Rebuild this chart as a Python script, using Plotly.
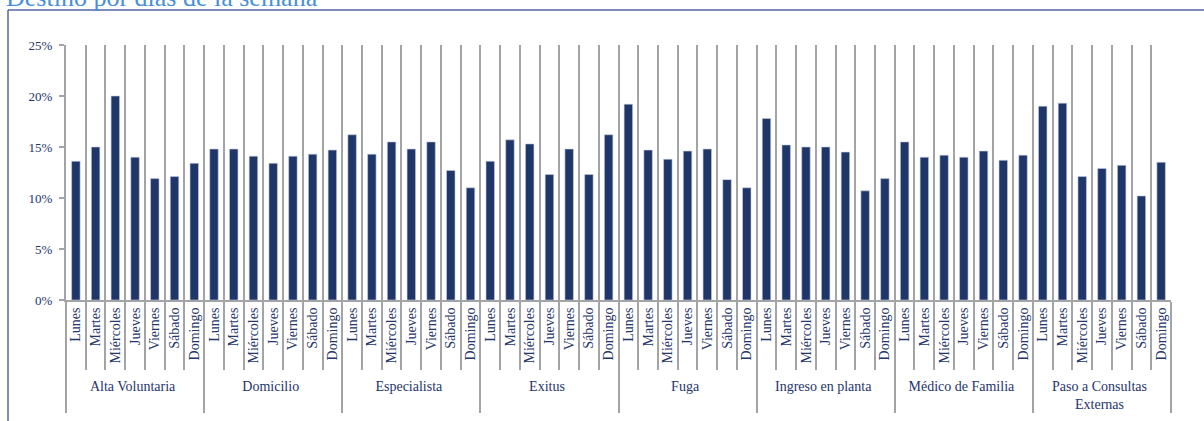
import plotly.graph_objects as go

# Destino (grupos) y días de la semana
DESTINOS = [
    "Alta Voluntaria",
    "Domicilio",
    "Especialista",
    "Exitus",
    "Fuga",
    "Ingreso en planta",
    "Médico de Familia",
    "Paso a Consultas<br>Externas",
]
DIAS = ["Lunes", "Martes", "Miércoles", "Jueves", "Viernes", "Sábado", "Domingo"]

# porcentaje por día (fracción)
alta_voluntaria = [0.136, 0.150, 0.200, 0.140, 0.119, 0.121, 0.134]
domicilio = [0.148, 0.148, 0.141, 0.134, 0.141, 0.143, 0.147]
especialista = [0.162, 0.143, 0.155, 0.148, 0.155, 0.127, 0.110]
exitus = [0.136, 0.157, 0.153, 0.123, 0.148, 0.123, 0.162]
fuga = [0.192, 0.147, 0.138, 0.146, 0.148, 0.118, 0.110]
ingreso_planta = [0.178, 0.152, 0.150, 0.150, 0.145, 0.107, 0.119]
medico_familia = [0.155, 0.140, 0.142, 0.140, 0.146, 0.137, 0.142]
consultas_externas = [0.190, 0.193, 0.121, 0.129, 0.132, 0.102, 0.135]

SERIES = [alta_voluntaria, domicilio, especialista, exitus, fuga,
          ingreso_planta, medico_familia, consultas_externas]

BAR_COLOR = "#1f3768"
TEXT_COLOR = "#25346a"
GRID_COLOR = "#a2a4a8"
FRAME_COLOR = "#5465a0"
FONT = "Liberation Serif"

x_outer = [d for d in DESTINOS for _ in DIAS]
x_inner = [dia for _ in DESTINOS for dia in DIAS]
y_vals = [v for serie in SERIES for v in serie]

fig = go.Figure(go.Bar(
    x=[x_outer, x_inner],
    y=y_vals,
    marker_color=BAR_COLOR,
    marker_line=dict(color="#c9cde0", width=0.6),
    hovertemplate="%{x}: %{y:.1%}<extra></extra>",
))

W, H = 1204, 421
L, R, T, B = 66, 33, 45, 121
pw, ph = W - L - R, H - T - B


def px_x(px):
    return (px - L) / pw


def px_y(py):
    return (H - B - py) / ph


fig.update_layout(
    width=W,
    height=H,
    margin=dict(l=L, r=R, t=T, b=B),
    paper_bgcolor="white",
    plot_bgcolor="white",
    bargap=0.57,
    showlegend=False,
    font=dict(family=FONT, size=14, color=TEXT_COLOR),
    xaxis=dict(
        type="multicategory",
        tickson="boundaries",
        showgrid=True,
        gridcolor=GRID_COLOR,
        gridwidth=2,
        ticks="outside",
        ticklen=68,
        tickwidth=2,
        tickcolor=GRID_COLOR,
        showdividers=True,
        dividercolor=GRID_COLOR,
        dividerwidth=2,
        tickangle=-90,
        tickfont=dict(family=FONT, size=14, color=TEXT_COLOR),
        showline=True,
        linecolor=GRID_COLOR,
        linewidth=2,
        automargin=False,
    ),
    yaxis=dict(
        range=[0, 0.25],
        dtick=0.05,
        tickformat=".0%",
        showgrid=False,
        zeroline=False,
        showline=True,
        linecolor=GRID_COLOR,
        linewidth=2,
        ticks="outside",
        ticklen=5,
        tickwidth=2,
        tickcolor=GRID_COLOR,
        ticklabelstandoff=4,
        tickfont=dict(family=FONT, size=13, color=TEXT_COLOR),
        automargin=False,
    ),
    shapes=[
        dict(type="line", xref="paper", yref="paper",
             x0=px_x(8), x1=px_x(1206), y0=px_y(10), y1=px_y(10),
             line=dict(color=FRAME_COLOR, width=1.5)),
        dict(type="line", xref="paper", yref="paper",
             x0=px_x(8), x1=px_x(8), y0=px_y(10), y1=px_y(425),
             line=dict(color=FRAME_COLOR, width=1.5)),
    ],
    annotations=[
        dict(text="Destino por días de la semana", xref="paper", yref="paper",
             x=px_x(4), y=px_y(14), xanchor="left", yanchor="bottom",
             showarrow=False,
             font=dict(family=FONT, size=26, color="#4a8fd8")),
    ],
)

# sin margen de página para que el gráfico empiece en la esquina
fig.write_html(
    "out.html",
    config={"displayModeBar": False},
    post_script="document.body.style.margin='0px';",
)
